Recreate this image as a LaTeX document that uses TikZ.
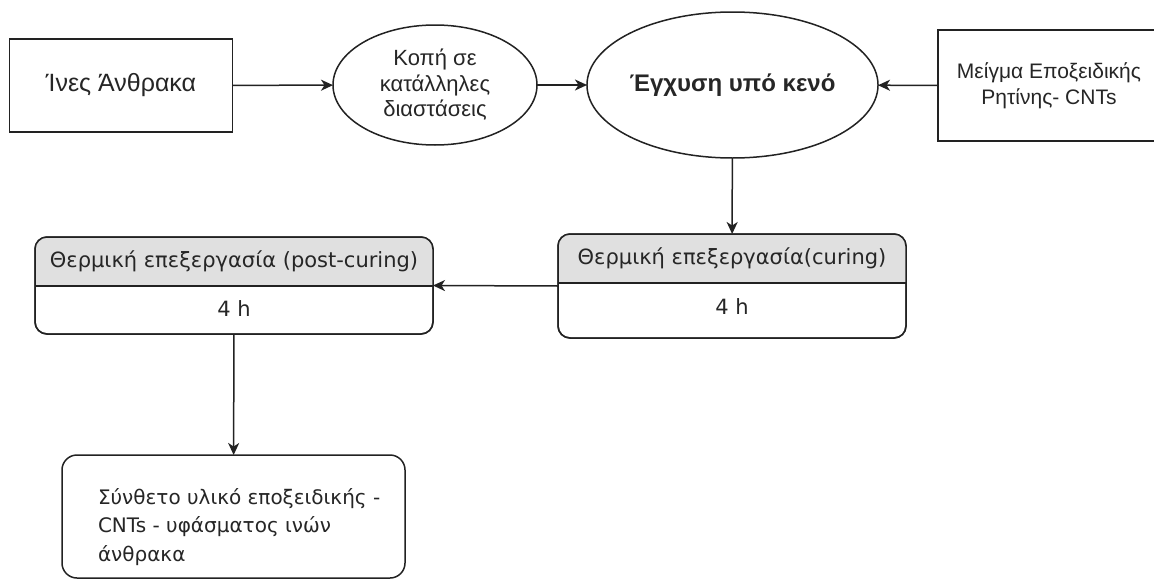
\documentclass[tikz,border=0pt]{standalone}
\usepackage{fontspec}
\setmainfont{Liberation Sans}
\newfontfamily\swfont{DejaVu Sans}
\usetikzlibrary{shapes.geometric,arrows.meta}
\definecolor{ln}{HTML}{222222}
\definecolor{hdr}{HTML}{E0E0E0}
\tikzset{
  x=1pt,y=-1pt,
  every node/.style={inner sep=0pt,outer sep=0pt},
  plain/.style={draw=ln,line width=1.5pt,fill=white,align=center,text=black!85},
  oval/.style={plain,ellipse},
  swim/.style={draw=ln,line width=1.5pt,rounded corners=12pt},
  swtext/.style={font=\swfont\fontsize{21}{25}\selectfont,text=black!85},
  arr/.style={draw=ln,line width=1.5pt,-{Stealth[length=12pt,width=11pt,inset=3.5pt]}}
}
\begin{document}
\begin{tikzpicture}
\useasboundingbox[fill=white] (0,0) rectangle (1154,581);
% top row
\node[plain,minimum width=223pt,minimum height=93pt,font=\fontsize{25}{30}\selectfont] (ines) at (121,85.5) {Ίνες Άνθρακα};
\node[oval,minimum width=204pt,minimum height=120pt,font=\fontsize{22}{25.5}\selectfont] (kopi) at (435,85) {Κοπή σε\\κατάλληλες\\διαστάσεις};
\node[oval,minimum width=219pt,minimum height=146pt,font=\bfseries\fontsize{24}{28}\selectfont] (egx) at (732.5,85) {Έγχυση υπό κενό};
\node[plain,minimum width=222pt,minimum height=111pt,font=\fontsize{21}{26}\selectfont] (meigma) at (1049,85.5) {Μείγμα Εποξειδικής\\Ρητίνης- CNTs};
% swimlane curing
\node[swim,minimum width=348pt,minimum height=104pt] (cur) at (732,286) {};
\begin{scope}
\clip[rounded corners=12pt] (cur.south west) rectangle (cur.north east);
\fill[hdr] (cur.north west) rectangle ([yshift=-49pt]cur.north east);
\end{scope}
\node[swim,minimum width=348pt,minimum height=104pt] (curframe) at (732,286) {};
\draw[ln,line width=1.5pt] ([yshift=-49pt]cur.north west) -- ([yshift=-49pt]cur.north east);
\node[swtext] (curhead) at (732,258) {Θερμική επεξεργασία(curing)};
\node[swtext] (curbody) at (732,307) {4 h};
% swimlane post-curing
\node[swim,minimum width=398pt,minimum height=97pt] (post) at (234,285.5) {};
\begin{scope}
\clip[rounded corners=12pt] (post.south west) rectangle (post.north east);
\fill[hdr] (post.north west) rectangle ([yshift=-49pt]post.north east);
\end{scope}
\node[swim,minimum width=398pt,minimum height=97pt] (postframe) at (234,285.5) {};
\draw[ln,line width=1.5pt] ([yshift=-49pt]post.north west) -- ([yshift=-49pt]post.north east);
\node[swtext] (posthead) at (234,261) {Θερμική επεξεργασία (post-curing)};
\node[swtext] (postbody) at (234,309) {4 h};
% final
\node[swim,rounded corners=15pt,minimum width=343pt,minimum height=123pt] (final) at (233.5,516.5) {};
\node[swtext,anchor=west,align=left,font=\swfont\fontsize{20}{28.5}\selectfont] (finaltext) at (98,527) {Σύνθετο υλικό εποξειδικής -\\CNTs - υφάσματος ινών\\άνθρακα};
% connectors
\draw[arr] (ines) -- (kopi);
\draw[arr] (kopi) -- (egx);
\draw[arr] (meigma) -- (egx);
\draw[arr] (egx) -- (cur);
\draw[arr] (cur.west) -- (post.east);
\draw[arr] (post) -- (final);
\end{tikzpicture}
\end{document}
